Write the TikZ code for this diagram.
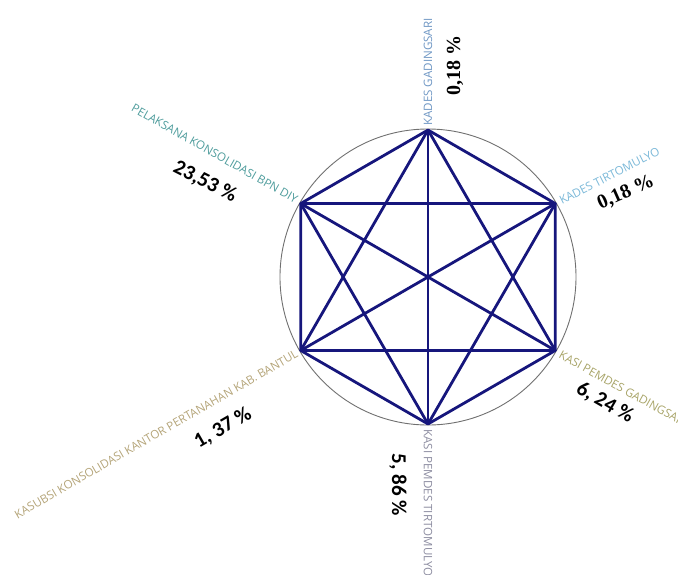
\documentclass[tikz,border=0pt]{standalone}
\usepackage{fontspec}
\newfontfamily\labfont{Open Sans}
\newfontfamily\pctsans{Carlito}
\newfontfamily\pctserif{Liberation Serif}
\definecolor{navy}{HTML}{16167C}
\definecolor{ringgray}{HTML}{707070}
\definecolor{cA}{HTML}{6F97C4}
\definecolor{cB}{HTML}{7AB8D8}
\definecolor{cC}{HTML}{A8A468}
\definecolor{cD}{HTML}{8C8CA0}
\definecolor{cE}{HTML}{B4A478}
\definecolor{cF}{HTML}{4E9C9C}
\tikzset{
  vtx/.style={circle,inner sep=0pt,minimum size=0pt},
  edge/.style={navy,line width=2.8pt,line cap=round},
  lab/.style={inner sep=0pt,font=\labfont\fontsize{11.6}{13}\selectfont},
  pcts/.style={inner sep=0pt,font=\pctsans\bfseries\fontsize{21}{24}\selectfont},
  pctr/.style={inner sep=0pt,font=\pctserif\bfseries\fontsize{20}{23}\selectfont},
}
\begin{document}
\begin{tikzpicture}[x=1pt,y=-1pt]
\useasboundingbox (0,0) rectangle (678,574);
\node[circle,draw=ringgray,line width=0.9pt,minimum size=296pt,inner sep=0pt] (ring) at (428,277) {};
\node[vtx] (T)  at (428,130) {};
\node[vtx] (UR) at (555.3,203.5) {};
\node[vtx] (LR) at (555.3,350.5) {};
\node[vtx] (B)  at (428,424) {};
\node[vtx] (LL) at (300.7,350.5) {};
\node[vtx] (UL) at (300.7,203.5) {};
% hexagon
\draw[edge] (T) -- (UR) -- (LR) -- (B) -- (LL) -- (UL) -- (T);
% long diagonals
\draw[edge] (T) -- (B);
\draw[edge] (UL) -- (LR);
\draw[edge] (UR) -- (LL);
% short diagonals
\draw[edge] (UL) -- (UR);
\draw[edge] (LL) -- (LR);
\draw[edge] (T) -- (LL);
\draw[edge] (T) -- (LR);
\draw[edge] (B) -- (UL);
\draw[edge] (B) -- (UR);
% labels
\node[lab,text=cA,rotate=90,anchor=west] (lT) at (428,126) {KADES GADINGSARI};
\node[lab,text=cB,rotate=27,anchor=west] (lUR) at (560,201) {KADES TIRTOMULYO};
\node[lab,text=cC,rotate=-29,anchor=west] (lLR) at (560,354) {KASI PEMDES GADINGSARI};
\node[lab,text=cD,rotate=-90,anchor=west] (lB) at (428,429) {KASI PEMDES TIRTOMULYO};
\node[lab,text=cE,rotate=30,anchor=east] (lLL) at (297,353) {KASUBSI KONSOLIDASI KANTOR PERTANAHAN KAB. BANTUL};
\node[lab,text=cF,rotate=-29.5,anchor=east] (lUL) at (297,200) {PELAKSANA KONSOLIDASI BPN DIY};
% percentages
\node[pctr,rotate=90] (pT) at (455,65) {0,18 \%};
\node[pctr,rotate=24] (pUR) at (626,193) {0,18 \%};
\node[pcts,rotate=-30] (pLR) at (605,403) {6, 24 \%};
\node[pcts,rotate=-90] (pB) at (398,485) {5, 86 \%};
\node[pcts,rotate=30] (pLL) at (223,428) {1, 37 \%};
\node[pcts,rotate=-27] (pUL) at (205,182) {23,53 \%};
\end{tikzpicture}
\end{document}
